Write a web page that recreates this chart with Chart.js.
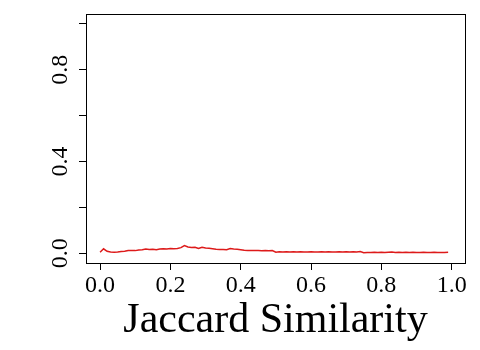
<!DOCTYPE html>
<html>
<head>
<meta charset="utf-8">
<script src="https://cdn.jsdelivr.net/npm/chart.js@4"></script>
<style>
  html, body { margin: 0; padding: 0; background: #fff; }
  #wrap { width: 480px; height: 350px; }
</style>
</head>
<body>
<div id="wrap"><canvas id="chart"></canvas></div>
<script>
// Jaccard similarity bins (x) and the red curve (y)
const similarity = [
  0.00, 0.01, 0.02, 0.03, 0.04, 0.05, 0.06, 0.07, 0.08, 0.09,
  0.10, 0.11, 0.12, 0.13, 0.14, 0.15, 0.16, 0.17, 0.18, 0.19,
  0.20, 0.21, 0.22, 0.23, 0.24, 0.25, 0.26, 0.27, 0.28, 0.29,
  0.30, 0.31, 0.32, 0.33, 0.34, 0.35, 0.36, 0.37, 0.38, 0.39,
  0.40, 0.41, 0.42, 0.43, 0.44, 0.45, 0.46, 0.47, 0.48, 0.49,
  0.50, 0.51, 0.52, 0.53, 0.54, 0.55, 0.56, 0.57, 0.58, 0.59,
  0.60, 0.61, 0.62, 0.63, 0.64, 0.65, 0.66, 0.67, 0.68, 0.69,
  0.70, 0.71, 0.72, 0.73, 0.74, 0.75, 0.76, 0.77, 0.78, 0.79,
  0.80, 0.81, 0.82, 0.83, 0.84, 0.85, 0.86, 0.87, 0.88, 0.89,
  0.90, 0.91, 0.92, 0.93, 0.94, 0.95, 0.96, 0.97, 0.98, 0.99
];
const values = [
  0.004, 0.019, 0.008, 0.005, 0.004, 0.005, 0.007, 0.008, 0.011, 0.012,
  0.011, 0.014, 0.015, 0.018, 0.016, 0.017, 0.015, 0.018, 0.019, 0.018,
  0.020, 0.019, 0.020, 0.024, 0.033, 0.027, 0.025, 0.026, 0.020, 0.026,
  0.022, 0.021, 0.019, 0.017, 0.016, 0.016, 0.015, 0.020, 0.018, 0.017,
  0.015, 0.013, 0.012, 0.012, 0.011, 0.012, 0.010, 0.011, 0.010, 0.011,
  0.004, 0.006, 0.005, 0.006, 0.005, 0.006, 0.005, 0.006, 0.005, 0.005,
  0.006, 0.005, 0.005, 0.006, 0.005, 0.006, 0.005, 0.005, 0.006, 0.005,
  0.006, 0.005, 0.006, 0.005, 0.007, 0.002, 0.003, 0.003, 0.004, 0.003,
  0.004, 0.003, 0.004, 0.005, 0.003, 0.004, 0.003, 0.004, 0.003, 0.004,
  0.003, 0.003, 0.004, 0.003, 0.003, 0.004, 0.003, 0.003, 0.003, 0.004
];

const xTickValues = [0, 0.2, 0.4, 0.6, 0.8, 1.0];
const xTickLabels = ['0.0', '0.2', '0.4', '0.6', '0.8', '1.0'];
const yTickValues = [0, 0.2, 0.4, 0.6, 0.8, 1.0];
const yTickLabels = ['0.0', '', '0.4', '', '0.8', ''];

const FONT = '"Liberation Serif", "Times New Roman", serif';

// box around the plotting region, like R's bty="o"
const boxPlugin = {
  id: 'box',
  afterDraw(chart) {
    const a = chart.chartArea;
    const ctx = chart.ctx;
    ctx.save();
    ctx.strokeStyle = '#000';
    ctx.lineWidth = 1;
    ctx.strokeRect(Math.round(a.left) + 0.5, Math.round(a.top) + 0.5,
      Math.round(a.right - a.left), Math.round(a.bottom - a.top));
    ctx.restore();
  }
};

new Chart(document.getElementById('chart'), {
  type: 'line',
  data: {
    datasets: [{
      data: similarity.map((x, i) => ({ x: x, y: values[i] })),
      borderColor: '#dd1a1a',
      borderWidth: 1.5,
      pointRadius: 0,
      tension: 0,
      fill: false
    }]
  },
  options: {
    responsive: true,
    maintainAspectRatio: false,
    animation: false,
    layout: { padding: { top: 14, right: 15, left: 0, bottom: 0 } },
    plugins: {
      legend: { display: false },
      tooltip: { enabled: false }
    },
    scales: {
      x: {
        type: 'linear',
        min: -0.04,
        max: 1.038,
        afterBuildTicks: s => { s.ticks = xTickValues.map(v => ({ value: v })); },
        afterFit: s => { s.height = 87; s.paddingLeft = 0; s.paddingRight = 0; },
        grid: { drawOnChartArea: false, drawTicks: true, tickLength: 7, color: '#000' },
        border: { display: true, color: '#000' },
        ticks: {
          color: '#000',
          font: { family: FONT, size: 24 },
          padding: 1,
          maxRotation: 0,
          autoSkip: false,
          callback: (v, i) => xTickLabels[i]
        },
        title: {
          display: true,
          text: 'Jaccard Similarity',
          color: '#000',
          font: { family: FONT, size: 42 },
          padding: { top: 0, bottom: 4 }
        }
      },
      y: {
        min: -0.043,
        max: 1.043,
        afterBuildTicks: s => { s.ticks = yTickValues.map(v => ({ value: v })); },
        afterFit: s => { s.width = 86; s.paddingTop = 0; s.paddingBottom = 0; },
        grid: { drawOnChartArea: false, drawTicks: true, tickLength: 7, color: '#000' },
        border: { display: true, color: '#000' },
        ticks: {
          color: '#000',
          font: { family: FONT, size: 24 },
          minRotation: 90,
          maxRotation: 90,
          crossAlign: 'center',
          padding: 3,
          autoSkip: false,
          callback: (v, i) => yTickLabels[i]
        }
      }
    }
  },
  plugins: [boxPlugin]
});
</script>
</body>
</html>
